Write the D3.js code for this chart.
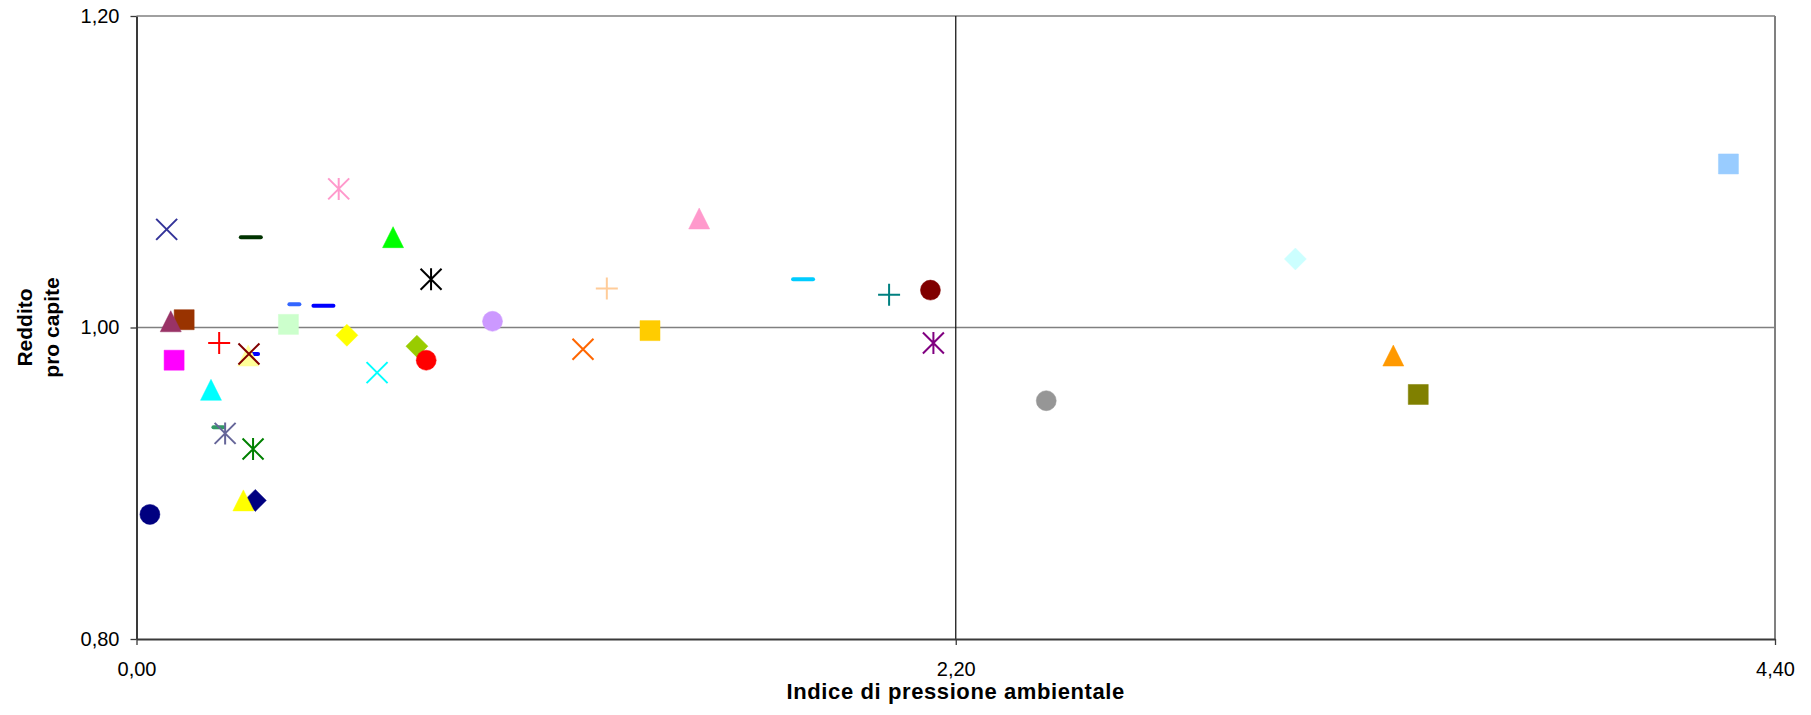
<!DOCTYPE html>
<html>
<head>
<meta charset="utf-8">
<script src="https://cdn.jsdelivr.net/npm/d3@7"></script>
<style>
  html, body { margin: 0; padding: 0; background: #ffffff; }
  svg { display: block; }
  text { font-family: "Liberation Sans", Arial, sans-serif; fill: #000; }
</style>
</head>
<body>
<div id="chart"></div>
<script>
// ---- data ----
const xTicks = [0.00, 2.20, 4.40];
const yTicks = [0.80, 1.00, 1.20];
const xTitle = "Indice di pressione ambientale";
const yTitle = ["Reddito", "pro capite"];

// one entry per plotted point, in drawing order
const pointX = [0.319, 0.101, 0.287, 0.646, 2.140, 2.132, 2.021, 0.313, 1.790, 3.112,
                0.408, 0.300, 0.302, 4.275, 0.543, 0.956, 1.263, 0.424, 0.502, 1.511,
                0.565, 0.753, 0.778, 1.379, 3.375, 1.199, 0.220, 0.238, 2.443, 0.313,
                0.036, 0.200, 0.128, 0.092, 0.222, 0.081, 0.307, 0.689, 0.791, 3.442];
const pointY = [0.889, 0.979, 0.889, 0.971, 0.990, 1.024, 1.021, 0.983, 1.031, 1.044,
                1.002, 0.982, 0.983, 1.105, 1.089, 1.004, 1.025, 1.015, 1.014, 1.070,
                0.995, 0.988, 0.979, 0.998, 0.982, 0.986, 0.936, 0.932, 0.953, 0.922,
                0.880, 0.960, 1.005, 1.004, 0.990, 1.063, 1.058, 1.058, 1.031, 0.957];
// marker style per point (kept separate from the values)
const pointShape = ["diamond","square","triangle","x","star","circle","plus","dot","dash","diamond",
                    "square","triangle","x","square","star","circle","plus","dot","dash","triangle",
                    "diamond","diamond","circle","square","triangle","x","dot","star","circle","star",
                    "circle","triangle","square","triangle","plus","x","dash","triangle","star","square"];
const pointColor = ["#000080","#FF00FF","#FFFF00","#00FFFF","#800080","#800000","#008080","#0000FF","#00CCFF","#CCFFFF",
                    "#CCFFCC","#FFFF99","#800000","#99CCFF","#FF99CC","#CC99FF","#FFCC99","#3366FF","#0000FF","#FF99CC",
                    "#FFFF00","#99CC00","#FF0000","#FFCC00","#FF9900","#FF6600","#339966","#666699","#969696","#008000",
                    "#000080","#00FFFF","#993300","#993366","#FF0000","#333399","#003300","#00FF00","#000000","#808000"];

// ---- layout ----
const W = 1811, H = 715;
const plot = { left: 136.5, right: 1775, top: 16, bottom: 639 };

const svg = d3.select("#chart").append("svg")
  .attr("width", W).attr("height", H);
svg.append("rect").attr("width", W).attr("height", H).attr("fill", "#fff");

const x = d3.scaleLinear().domain([xTicks[0], xTicks[xTicks.length - 1]]).range([plot.left, plot.right]);
const y = d3.scaleLinear().domain([yTicks[0], yTicks[yTicks.length - 1]]).range([plot.bottom, plot.top]);

const loc = d3.formatLocale({ decimal: ",", thousands: ".", grouping: [3], currency: ["", "€"] });
const fmt = loc.format(".2f");

// gridlines
const g = svg.append("g");
g.selectAll("line.hg").data(yTicks.filter(v => v !== yTicks[0])).enter().append("line")
  .attr("x1", x(xTicks[0])).attr("x2", x(xTicks[xTicks.length - 1]))
  .attr("y1", d => y(d)).attr("y2", d => y(d))
  .attr("stroke", "#808080").attr("stroke-width", 1.5);
g.selectAll("line.vg").data(xTicks.filter(v => v !== xTicks[0])).enter().append("line")
  .attr("x1", d => x(d)).attr("x2", d => x(d))
  .attr("y1", y(yTicks[0])).attr("y2", y(yTicks[yTicks.length - 1]))
  .attr("stroke", (d, i) => i === 0 ? "#1a1a1a" : "#808080")
  .attr("stroke-width", (d, i) => i === 0 ? 1.3 : 2);

// axes
const ax = svg.append("g").attr("transform", `translate(0,${plot.bottom})`)
  .call(d3.axisBottom(x).tickValues(xTicks).tickFormat(fmt).tickSize(6).tickSizeOuter(0).tickPadding(17));
const ay = svg.append("g").attr("transform", `translate(${plot.left},0)`)
  .call(d3.axisLeft(y).tickValues(yTicks).tickFormat(fmt).tickSize(6).tickSizeOuter(0).tickPadding(11));
[ax, ay].forEach(a => {
  a.select(".domain").attr("stroke", "#3a3a3a").attr("stroke-width", 2);
  a.selectAll(".tick line").attr("stroke", "#3a3a3a").attr("stroke-width", 1.3);
  a.selectAll(".tick text").attr("font-size", 20).attr("fill", "#000")
    .style("font-family", '"Liberation Sans", Arial, sans-serif');
});

// titles
svg.append("text")
  .attr("x", (plot.left + plot.right) / 2).attr("y", 699)
  .attr("text-anchor", "middle").attr("font-size", 22).attr("font-weight", "bold")
  .attr("letter-spacing", 0.6)
  .text(xTitle);
const cy = (plot.top + plot.bottom) / 2;
yTitle.forEach((t, i) => {
  svg.append("text")
    .attr("transform", `translate(${31.5 + i * 27.5},${cy}) rotate(-90)`)
    .attr("text-anchor", "middle").attr("font-size", 21).attr("font-weight", "bold")
    .text(t);
});

// markers
const markerPath = {
  square: "M-10,-10H10V10H-10Z",
  diamond: "M0,-11L11,0L0,11L-11,0Z",
  triangle: "M0,-10.5L10.5,10.5L-10.5,10.5Z",
  circle: "M10,0A10,10 0 1,1 -10,0A10,10 0 1,1 10,0Z",
  x: "M-10.5,-10.5L10.5,10.5M10.5,-10.5L-10.5,10.5",
  star: "M-10.5,-10.5L10.5,10.5M10.5,-10.5L-10.5,10.5M0,-11V11",
  plus: "M-11,0H11M0,-11V11",
  dash: "M-10,0H10",
  dot: "M-5,0H5"
};
const filled = new Set(["square", "diamond", "triangle", "circle"]);
const pts = d3.range(pointX.length).map(i => ({ x: pointX[i], y: pointY[i], s: pointShape[i], c: pointColor[i] }));

svg.append("g").selectAll("path").data(pts).enter().append("path")
  .attr("transform", d => `translate(${x(d.x)},${y(d.y)})`)
  .attr("d", d => markerPath[d.s])
  .attr("fill", d => filled.has(d.s) ? d.c : "none")
  .attr("stroke", d => d.c)
  .attr("stroke-width", d => filled.has(d.s) ? 0.5 : (d.s === "dash" || d.s === "dot") ? 4 : 2)
  .attr("stroke-linecap", d => (d.s === "dash" || d.s === "dot") ? "round" : "butt");
</script>
</body>
</html>
